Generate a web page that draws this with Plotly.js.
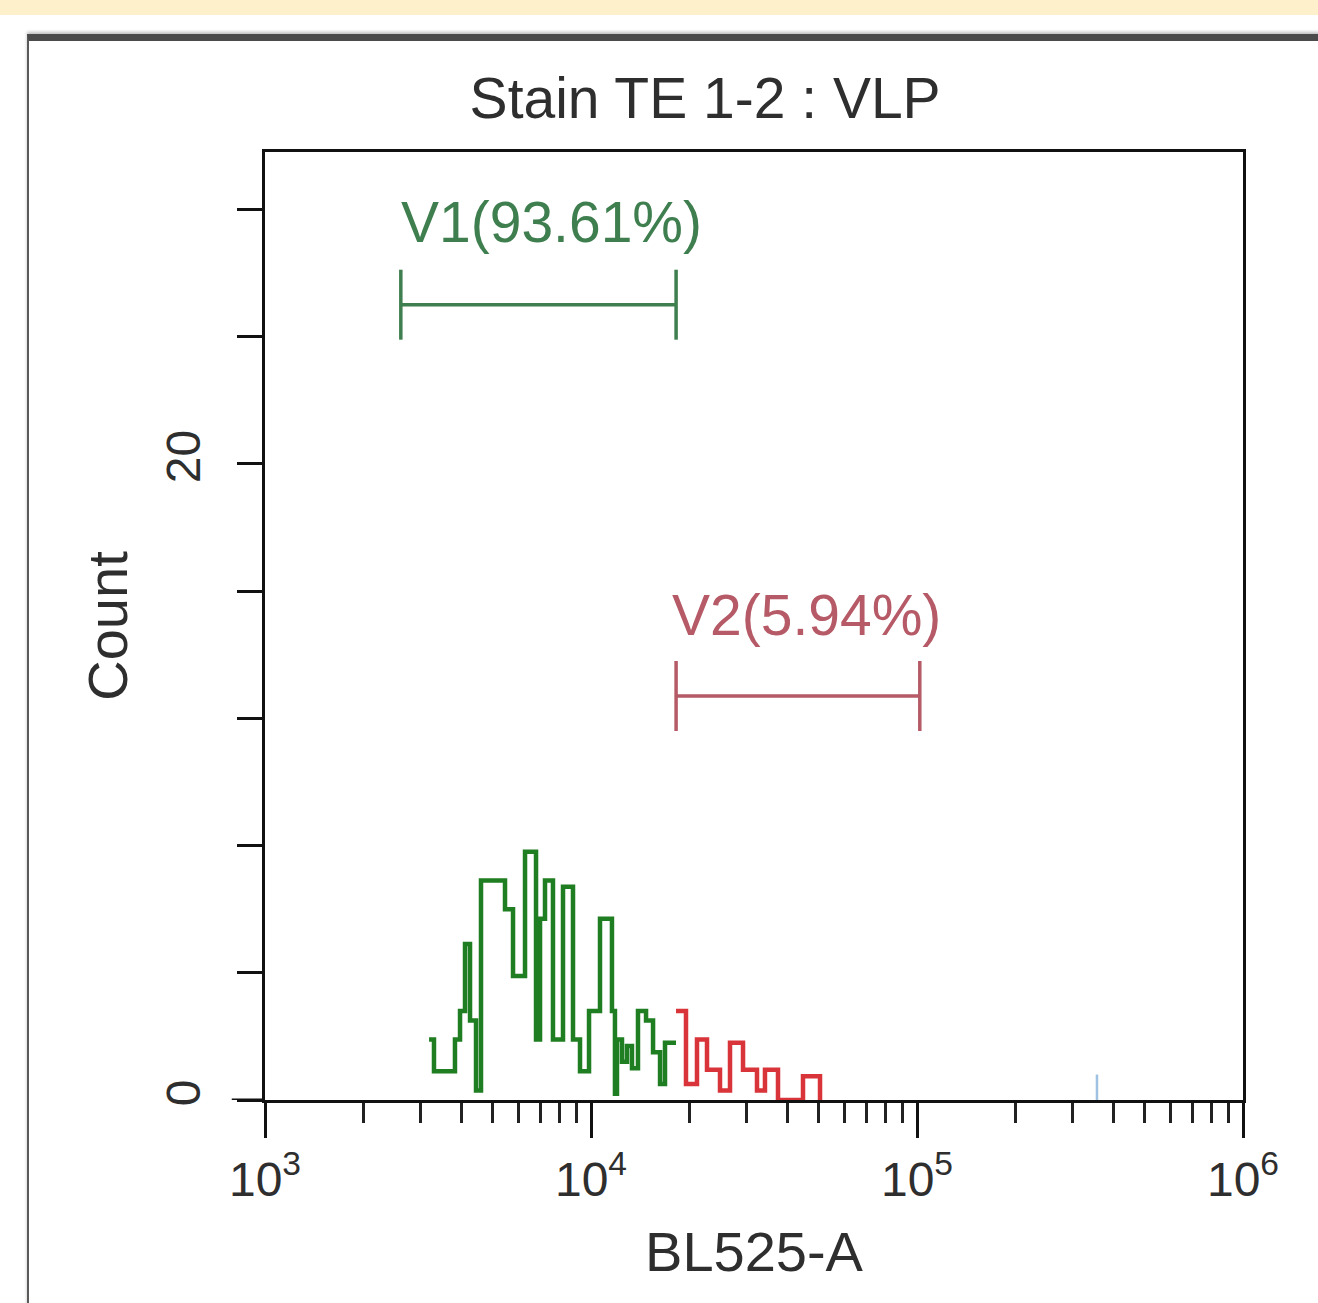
<!DOCTYPE html>
<html>
<head>
<meta charset="utf-8">
<script src="https://cdn.plot.ly/plotly-3.0.1.min.js"></script>
<style>
  html, body { margin: 0; padding: 0; background: #ffffff; width: 1318px; height: 1303px; overflow: hidden; }
  #band { position: absolute; left: 0; top: 0; width: 1318px; height: 15px; background: #fdf0cb; }
  #frame { position: absolute; left: 27px; top: 34px; width: 1300px; height: 1290px;
           border-top: 7px solid #4b4b4b; border-left: 2px solid #5a5a5a;
           box-shadow: 0 -2px 3px rgba(0,0,0,0.25); }
  #chart { position: absolute; left: 0; top: 0; width: 1318px; height: 1303px; }
</style>
</head>
<body>
<div id="band"></div>
<div id="frame"></div>
<div id="chart"></div>
<script>
// ---- data ----
// V1 population (green) histogram: step start positions (BL525-A) and counts
const v1X = [3186, 3299, 3826, 3965, 4107, 4255, 4439, 4598, 5448, 5765, 6275, 6782, 6976, 7226,
             7645, 8206, 8806, 9253, 9861, 10656, 11596, 11844, 12014, 12447, 12893, 13358,
             13936, 14751, 15500, 16286, 16865, 18232];
const v1Count = [1.9, 0.9, 1.9, 2.8, 4.9, 2.5, 0.3, 6.9, 6.0, 3.9, 7.8, 1.9, 5.7, 6.9,
                 1.9, 6.7, 1.9, 0.9, 2.8, 5.7, 2.8, 0.2, 1.9, 1.2, 1.7, 1.0,
                 2.8, 2.5, 1.5, 0.5, 1.8, 1.8];
// V2 population (red) histogram
const v2X = [18232, 19561, 21141, 22689, 24871, 26692, 29266, 32298, 34173, 37464, 44700, 50409];
const v2Count = [2.8, 0.5, 1.9, 0.95, 0.3, 1.8, 0.95, 0.3, 0.95, 0, 0.75, 0];
// isolated event far right (light blue)
const otherX = [356500, 356500];
const otherCount = [0, 0.8];

// gates
const gateNames = ["V1", "V2"];
const gatePercent = ["93.61%", "5.94%"];
const gateLo = [2610, 18240];
const gateHi = [18240, 102000];
const gateLevel = [25.0, 12.7];
const gateLabelX = [2580, 17470];
const gateLabelY = [27.6, 15.25];
const gateColors = ["#3f7f4f", "#b55a66"];

// axes
const xTickVals = [1e3, 1e4, 1e5, 1e6];
const xTickText = ["10<sup>3</sup>", "10<sup>4</sup>", "10<sup>5</sup>", "10<sup>6</sup>"];
const xMinorVals = [2e3,3e3,4e3,5e3,6e3,7e3,8e3,9e3, 2e4,3e4,4e4,5e4,6e4,7e4,8e4,9e4, 2e5,3e5,4e5,5e5,6e5,7e5,8e5,9e5];
const yTickVals = [0, 20];
const yTickText = ["0", "20"];
const yMinorVals = [4, 8, 12, 16, 24, 28];
const yRange = [0, 29.8];

const FONT = "Liberation Sans, Arial, sans-serif";
const TXT = "#2e2e2e";

const traces = [
  { x: v1X, y: v1Count, type: "scatter", mode: "lines", line: { shape: "hv", color: "#1f7d22", width: 4.5 }, hoverinfo: "skip" },
  { x: v2X, y: v2Count, type: "scatter", mode: "lines", line: { shape: "hv", color: "#d8343a", width: 4.5 }, hoverinfo: "skip" },
  { x: otherX, y: otherCount, type: "scatter", mode: "lines", line: { color: "#9fc2e2", width: 2.5 }, hoverinfo: "skip" }
];

const shapes = [];
const annotations = [];
for (let i = 0; i < gateNames.length; i++) {
  const c = gateColors[i];
  shapes.push({ type: "line", xref: "x", yref: "y", x0: gateLo[i], x1: gateHi[i], y0: gateLevel[i], y1: gateLevel[i], line: { color: c, width: 3.5 } });
  shapes.push({ type: "line", xref: "x", yref: "y", x0: gateLo[i], x1: gateLo[i], y0: gateLevel[i] - 1.1, y1: gateLevel[i] + 1.1, line: { color: c, width: 3.5 } });
  shapes.push({ type: "line", xref: "x", yref: "y", x0: gateHi[i], x1: gateHi[i], y0: gateLevel[i] - 1.1, y1: gateLevel[i] + 1.1, line: { color: c, width: 3.5 } });
  annotations.push({ xref: "x", yref: "y", x: Math.log10(gateLabelX[i]), y: gateLabelY[i], xanchor: "left", yanchor: "middle",
    text: gateNames[i] + "(" + gatePercent[i] + ")", showarrow: false, font: { family: FONT, size: 57, color: c } });
}
// y=0 tick extends a bit further left
shapes.push({ type: "line", xref: "paper", yref: "y", x0: -0.034, x1: 0, y0: 0, y1: 0, line: { color: "#111", width: 3 } });

const layout = {
  width: 1318, height: 1303,
  margin: { l: 265, r: 75, t: 152, b: 203 },
  paper_bgcolor: "rgba(0,0,0,0)",
  plot_bgcolor: "#ffffff",
  showlegend: false,
  title: { text: "Stain TE 1-2 : VLP", x: 0.535, xref: "container", y: 0.925, yref: "container", yanchor: "middle",
           font: { family: FONT, size: 57, color: TXT } },
  xaxis: {
    type: "log", range: [3, 6], showgrid: false, zeroline: false,
    showline: true, mirror: true, linecolor: "#111", linewidth: 3,
    ticks: "outside", ticklen: 35, tickwidth: 3, tickcolor: "#111",
    tickmode: "array", tickvals: xTickVals, ticktext: xTickText,
    tickfont: { family: FONT, size: 48, color: TXT },
    minor: { tickmode: "array", tickvals: xMinorVals, ticks: "outside", ticklen: 20, tickwidth: 3, tickcolor: "#222", showgrid: false },
    title: { text: "BL525-A", standoff: 28, font: { family: FONT, size: 56, color: TXT } }
  },
  yaxis: {
    range: yRange, showgrid: false, zeroline: false,
    showline: true, mirror: true, linecolor: "#111", linewidth: 3,
    ticks: "outside", ticklen: 25, tickwidth: 3, tickcolor: "#111",
    tickmode: "array", tickvals: yTickVals, ticktext: yTickText, tickangle: -90,
    ticklabelstandoff: 18,
    tickfont: { family: FONT, size: 48, color: TXT },
    minor: { tickmode: "array", tickvals: yMinorVals, ticks: "outside", ticklen: 25, tickwidth: 3, tickcolor: "#111", showgrid: false },
    title: { text: "Count", standoff: 12, font: { family: FONT, size: 56, color: TXT } }
  },
  shapes: shapes,
  annotations: annotations
};

Plotly.newPlot("chart", traces, layout, { displayModeBar: false, staticPlot: true });
</script>
</body>
</html>
